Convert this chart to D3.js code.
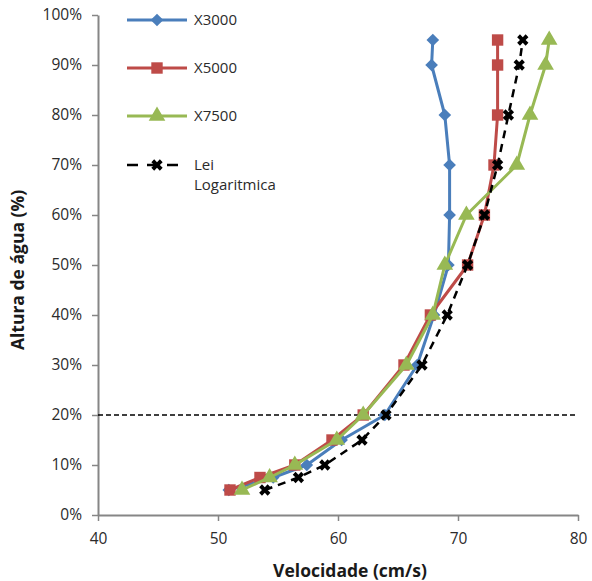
<!DOCTYPE html>
<html>
<head>
<meta charset="utf-8">
<script src="https://cdn.jsdelivr.net/npm/d3@7"></script>
<style>
  body { margin: 0; background: #fff; }
  svg text { font-family: "Open Sans", "DejaVu Sans", sans-serif; }
</style>
</head>
<body>
<div id="chart"></div>
<script>
// heights (%) shared by every series
var alturas = [5, 7.5, 10, 15, 20, 30, 40, 50, 60, 70, 80, 90, 95];
var x3000 = [50.9, 54.6, 57.4, 60.3, 63.9, 66.6, 68.0, 69.2, 69.3, 69.3, 68.9, 67.8, 67.9];
var x5000 = [51.0, 53.5, 56.4, 59.5, 62.1, 65.5, 67.7, 70.8, 72.2, 73.0, 73.3, 73.3, 73.3];
var x7500 = [52.0, 54.3, 56.4, 59.9, 62.1, 65.7, 67.9, 68.9, 70.7, 74.9, 76.0, 77.3, 77.6];
var leiLog = [53.9, 56.7, 58.9, 62.0, 64.0, 67.0, 69.1, 70.8, 72.2, 73.3, 74.2, 75.1, 75.4];
var seriesNames = ["X3000", "X5000", "X7500", "Lei\nLogaritmica"];
var xTicks = [40, 50, 60, 70, 80];
var yTicks = [0, 10, 20, 30, 40, 50, 60, 70, 80, 90, 100];
var linhaRef = 20;

var width = 592, height = 581;
var margin = {left: 98, right: 14, top: 15, bottom: 66};

var svg = d3.select("#chart").append("svg")
    .attr("width", width)
    .attr("height", height);

var x = d3.scaleLinear().domain([40, 80]).range([margin.left, width - margin.right]);
var y = d3.scaleLinear().domain([0, 100]).range([height - margin.bottom, margin.top]);

var axisColor = "#868686";

/* axes */
var xAxis = svg.append("g")
    .attr("transform", "translate(0," + y(0) + ")")
    .call(d3.axisBottom(x).tickValues(xTicks).tickSize(6).tickSizeOuter(0).tickPadding(12));
var yAxis = svg.append("g")
    .attr("transform", "translate(" + x(40) + ",0)")
    .call(d3.axisLeft(y).tickValues(yTicks).tickSize(6).tickSizeOuter(0).tickPadding(10)
        .tickFormat(function(d) { return d + "%"; }));

[xAxis, yAxis].forEach(function(a) {
    a.select(".domain").attr("stroke", axisColor).attr("stroke-width", 2);
    a.selectAll(".tick line").attr("stroke", axisColor).attr("stroke-width", 1.5);
    a.selectAll(".tick text").attr("fill", "#2b2b2b").attr("font-size", "15.5px");
});

/* reference line */
svg.append("line")
    .attr("x1", x(40)).attr("x2", x(80))
    .attr("y1", y(linhaRef)).attr("y2", y(linhaRef))
    .attr("stroke", "#000").attr("stroke-width", 1.3)
    .attr("stroke-dasharray", "5,3");

/* axis titles */
svg.append("text")
    .attr("x", 350)
    .attr("y", 577)
    .attr("text-anchor", "middle")
    .attr("font-size", "17.5px").attr("font-weight", "bold").attr("fill", "#1a1a1a")
    .text("Velocidade (cm/s)");
svg.append("text")
    .attr("transform", "translate(24,270) rotate(-90)")
    .attr("text-anchor", "middle")
    .attr("font-size", "17.5px").attr("font-weight", "bold").attr("fill", "#1a1a1a")
    .text("Altura de água (%)");

/* custom wide diamond (square turned 45 degrees) */
var wideDiamond = {
    draw: function(ctx, size) {
        var r = Math.sqrt(size / 2);
        ctx.moveTo(0, -r); ctx.lineTo(r, 0); ctx.lineTo(0, r); ctx.lineTo(-r, 0); ctx.closePath();
    }
};

/* series */
var series = [
    {name: seriesNames[0], values: x3000, color: "#4A7EBB", marker: wideDiamond, size: 80, dash: null, width: 3},
    {name: seriesNames[1], values: x5000, color: "#BE4B48", marker: d3.symbolSquare, size: 130, dash: null, width: 3},
    {name: seriesNames[2], values: x7500, color: "#98B954", marker: d3.symbolTriangle, size: 120, dash: null, width: 3},
    {name: seriesNames[3], values: leiLog, color: "#000", marker: d3.symbolCross, size: 80, dash: "8,6", width: 2.5}
];

var line = d3.line()
    .x(function(d) { return x(d.v); })
    .y(function(d) { return y(d.h); });

series.forEach(function(s) {
    var pts = s.values.map(function(v, i) { return {v: v, h: alturas[i]}; });
    var g = svg.append("g").attr("class", "serie");
    g.append("path")
        .datum(pts)
        .attr("d", line)
        .attr("fill", "none")
        .attr("stroke", s.color)
        .attr("stroke-width", s.width)
        .attr("stroke-linejoin", "round")
        .attr("stroke-dasharray", s.dash);
    g.selectAll(".pt").data(pts).enter()
        .append("path")
        .attr("class", "pt")
        .attr("transform", function(d) {
            return "translate(" + x(d.v) + "," + y(d.h) + ")" + (s.marker === d3.symbolCross ? " rotate(45)" : "");
        })
        .attr("d", d3.symbol().type(s.marker).size(s.size))
        .attr("fill", s.color);
});

/* legend */
var legendY = [20, 68, 116, 165];
var legend = svg.append("g");
series.forEach(function(s, i) {
    var g = legend.append("g").attr("transform", "translate(127," + legendY[i] + ")");
    g.append("line")
        .attr("x1", 0).attr("x2", 60)
        .attr("stroke", s.color).attr("stroke-width", s.width)
        .attr("stroke-dasharray", s.dash ? "11,9" : null);
    g.append("path")
        .attr("transform", "translate(30,0)" + (s.marker === d3.symbolCross ? " rotate(45)" : ""))
        .attr("d", d3.symbol().type(s.marker).size(s.size))
        .attr("fill", s.color);
    var t = g.append("text")
        .attr("x", 67).attr("y", 5)
        .attr("font-size", "15px").attr("fill", "#2b2b2b");
    s.name.split("\n").forEach(function(part, j) {
        t.append("tspan").attr("x", 67).attr("dy", j === 0 ? 0 : 20).text(part);
    });
});
</script>
</body>
</html>
